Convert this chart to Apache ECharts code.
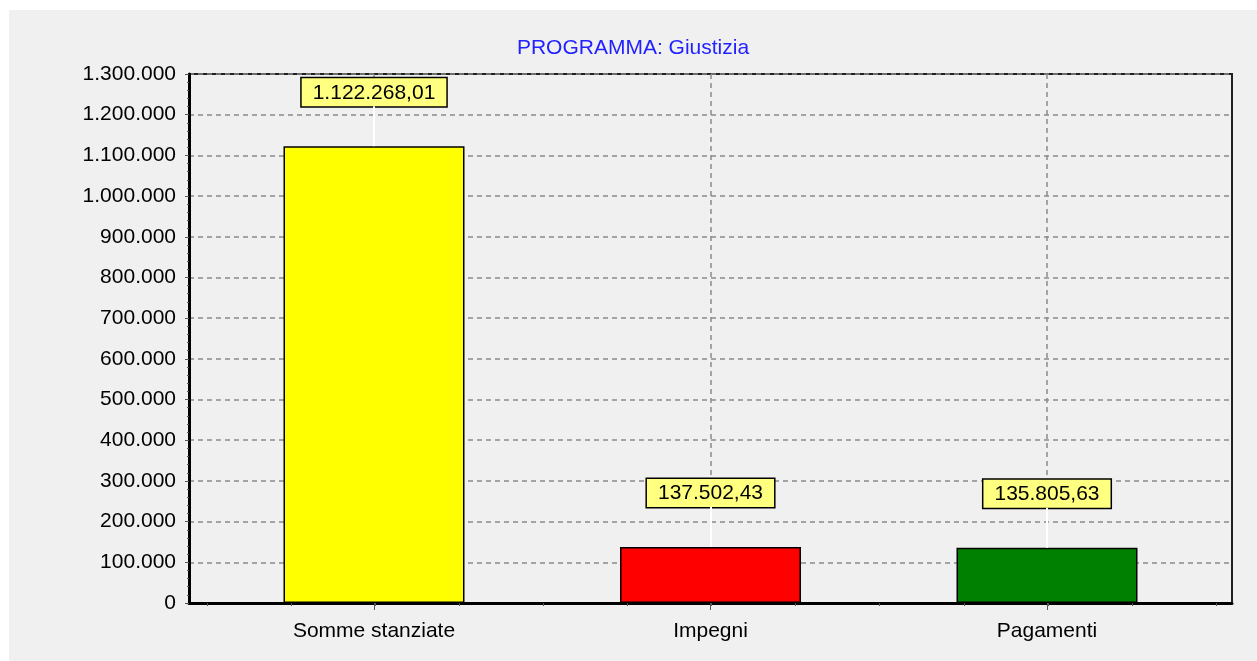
<!DOCTYPE html>
<html>
<head>
<meta charset="utf-8">
<script src="https://cdn.jsdelivr.net/npm/echarts@6/dist/echarts.min.js"></script>
<style>
    html, body { margin: 0; padding: 0; background: #ffffff; }
    #Root { position: absolute; left: 9px; top: 10px; width: 1248px; height: 651px; background: #f0f0f0; }
</style>
</head>
<body>
<div id="Root"></div>
<script>
// dati del grafico
let categories = ["Somme stanziate", "Impegni", "Pagamenti"]
let values = [1122268.01, 137502.43, 135805.63]
let barColors = ["#ffff00", "#ff0000", "#008000"]
let yMax = 1300000
let yStep = 100000

// formato italiano: migliaia con punto, decimali con virgola
function fmtIt(v, dec) {
    let parts = v.toFixed(dec).split(".")
    let intPart = parts[0].replace(/\B(?=(\d{3})+(?!\d))/g, ".")
    return parts.length > 1 ? intPart + "," + parts[1] : intPart
}

let chart = echarts.init(document.getElementById("Root"))

let FONT = "Liberation Sans, Arial, sans-serif"
let LABEL_LIFT = 40

let options = {
    backgroundColor: "#f0f0f0",
    animation: false,
    title: {
        text: "PROGRAMMA: Giustizia",
        left: "center",
        top: 23,
        textStyle: { color: "#2222ff", fontSize: 21, fontWeight: "normal", fontFamily: FONT }
    },
    grid: [
        // cornice
        { left: 180, right: 25, top: 64, bottom: 58, show: true, borderColor: "#222", borderWidth: 2, backgroundColor: "transparent" },
        // barre (centri delle categorie)
        { left: 365, right: 210, top: 64, bottom: 58 },
        // tacche minori asse x
        { left: 198, right: 41, top: 64, bottom: 58 }
    ],
    xAxis: [
        {
            gridIndex: 0, type: "value", min: 0, max: 1,
            axisLine: { show: true, onZero: false, lineStyle: { color: "#000", width: 3 } },
            axisTick: { show: false }, axisLabel: { show: false }, splitLine: { show: false }
        },
        {
            gridIndex: 1, type: "category", data: categories, boundaryGap: false,
            axisLine: { show: false },
            axisTick: { show: true, length: 7, lineStyle: { color: "#555" } },
            axisLabel: { color: "#000", fontSize: 21, fontFamily: FONT, margin: 18 },
            splitLine: { show: true, lineStyle: { color: "#8a8a8a", type: [5, 4], width: 1.5 } }
        },
        {
            gridIndex: 2, type: "value", min: 0, max: 12, interval: 1,
            axisLine: { show: false },
            axisTick: { show: true, length: 3, lineStyle: { color: "#555" } },
            axisLabel: { show: false }, splitLine: { show: false }
        }
    ],
    yAxis: [
        {
            gridIndex: 0, type: "value", min: 0, max: yMax, interval: yStep,
            axisLine: { show: true, lineStyle: { color: "#000", width: 3 } },
            axisTick: { show: true, length: 4, lineStyle: { color: "#555" } },
            minorTick: { show: true, splitNumber: 5, length: 2, lineStyle: { color: "#555" } },
            axisLabel: { color: "#000", fontSize: 21, fontFamily: FONT, margin: 13, formatter: v => fmtIt(v, 0) },
            splitLine: { show: true, lineStyle: { color: "#8a8a8a", type: [5, 4], width: 1.5 } }
        },
        {
            gridIndex: 1, type: "value", min: 0, max: yMax, interval: yStep, show: false
        },
        {
            gridIndex: 2, type: "value", min: 0, max: yMax, interval: yStep, show: false
        }
    ],
    series: [
        {
            type: "bar",
            xAxisIndex: 1, yAxisIndex: 1,
            barWidth: 181,
            z: 3,
            data: values.map((v, i) => ({ value: v, itemStyle: { color: barColors[i] } })),
            itemStyle: { borderColor: "#000", borderWidth: 1.5 },
            label: {
                show: true,
                position: "top",
                distance: 0,
                formatter: p => fmtIt(p.value, 2),
                color: "#000",
                fontSize: 21,
                fontFamily: FONT,
                backgroundColor: "#ffff80",
                borderColor: "#000",
                borderWidth: 1.5,
                padding: [4, 11, 3, 11]
            },
            labelLayout: { dy: -LABEL_LIFT }
        }
    ]
}

chart.setOption(options)

// linee bianche tra barra ed etichetta
let connectors = values.map((v, i) => {
    let p = chart.convertToPixel({ xAxisIndex: 1, yAxisIndex: 1 }, [i, v])
    return {
        type: "rect",
        z: 50,
        shape: { x: Math.round(p[0]) - 1, y: p[1] - LABEL_LIFT, width: 2, height: LABEL_LIFT },
        style: { fill: "#ffffff" }
    }
})
chart.setOption({ graphic: connectors })
</script>
</body>
</html>
